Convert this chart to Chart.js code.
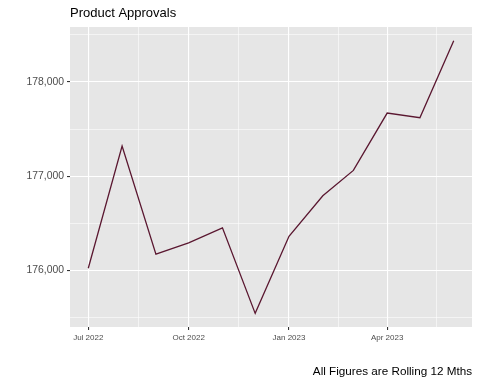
<!DOCTYPE html>
<html>
<head>
<meta charset="utf-8">
<script src="https://cdn.jsdelivr.net/npm/chart.js@4"></script>
<style>
  html, body { margin: 0; padding: 0; background: #fff; }
  #wrap { width: 480px; height: 384px; }
</style>
</head>
<body>
<div id="wrap"><canvas id="approvalsChart" width="480" height="384"></canvas></div>
<script>
// Monthly rolling 12-month approvals
const months = [
    [2022, 6], [2022, 7], [2022, 8], [2022, 9], [2022, 10], [2022, 11],
    [2023, 0], [2023, 1], [2023, 2], [2023, 3], [2023, 4], [2023, 5]
];
const approvals = [176020, 177320, 176170, 176290, 176450, 175540,
                   176360, 176790, 177060, 177670, 177620, 178440];

const xTickDates = [[2022, 6], [2022, 9], [2023, 0], [2023, 3]];
const xTickLabels = ['Jul 2022', 'Oct 2022', 'Jan 2023', 'Apr 2023'];
const yTicks = [176000, 177000, 178000];
const yMinorTicks = [175500, 176500, 177500, 178500];

const chartTitle = 'Product Approvals';
const chartCaption = 'All Figures are Rolling 12 Mths';

const toTime = d => Date.UTC(d[0], d[1], 1);
const xs = months.map(toTime);
const majorX = xTickDates.map(toTime);
// minor breaks sit halfway between the major ones
const minorX = [];
for (let i = 0; i < majorX.length; i++) {
    const next = i + 1 < majorX.length ? majorX[i + 1] : Date.UTC(2023, 6, 1);
    minorX.push((majorX[i] + next) / 2);
}

// ggplot style 5% expansion
const xSpan = Math.max(...xs) - Math.min(...xs);
const ySpan = Math.max(...approvals) - Math.min(...approvals);
const xMin = Math.min(...xs) - xSpan * 0.05, xMax = Math.max(...xs) + xSpan * 0.05;
const yMin = Math.min(...approvals) - ySpan * 0.05, yMax = Math.max(...approvals) + ySpan * 0.05;

const fontFamily = '"Liberation Sans", Arial, Helvetica, sans-serif';

const panelPlugin = {
    id: 'panel',
    beforeDraw(chart) {
        const { ctx, chartArea: a } = chart;
        ctx.save();
        ctx.fillStyle = '#E6E6E6';
        ctx.fillRect(a.left, a.top, a.right - a.left, a.bottom - a.top);
        ctx.restore();
    },
    afterDraw(chart) {
        const { ctx, chartArea: a } = chart;
        ctx.save();
        ctx.fillStyle = '#000';
        ctx.textBaseline = 'alphabetic';
        ctx.font = '13px ' + fontFamily;
        ctx.textAlign = 'left';
        ctx.fillText(chartTitle, a.left, 17);
        ctx.font = '11.7px ' + fontFamily;
        ctx.textAlign = 'right';
        ctx.fillText(chartCaption, a.right, 375);
        ctx.restore();
    }
};

const isMajorX = v => majorX.some(m => Math.abs(m - v) < 1000);
const isMajorY = v => yTicks.includes(v);

const ctx = document.getElementById('approvalsChart').getContext('2d');
const approvalsChart = new Chart(ctx, {
    type: 'line',
    data: {
        datasets: [{
            label: 'Approvals',
            data: xs.map((x, i) => ({ x: x, y: approvals[i] })),
            borderColor: '#5A1730',
            borderWidth: 1.3,
            pointRadius: 0,
            fill: false,
            tension: 0
        }]
    },
    options: {
        responsive: false,
        animation: false,
        layout: { padding: { top: 27, right: 8, left: 0, bottom: 0 } },
        plugins: {
            legend: { display: false },
            tooltip: { enabled: false }
        },
        scales: {
            x: {
                type: 'linear',
                min: xMin,
                max: xMax,
                afterBuildTicks: scale => {
                    scale.ticks = majorX.concat(minorX).sort((a, b) => a - b).map(v => ({ value: v }));
                },
                afterFit: scale => { scale.height = 57; },
                border: { display: false },
                grid: {
                    color: '#FFFFFF',
                    lineWidth: c => isMajorX(c.tick.value) ? 1.1 : 0.55,
                    drawTicks: true,
                    tickLength: 3,
                    tickColor: c => isMajorX(c.tick.value) ? '#333333' : 'rgba(0,0,0,0)',
                    tickWidth: 1.1
                },
                ticks: {
                    autoSkip: false,
                    maxRotation: 0,
                    padding: 3,
                    color: '#4D4D4D',
                    font: { family: fontFamily, size: 8 },
                    callback: v => {
                        const i = majorX.findIndex(m => Math.abs(m - v) < 1000);
                        return i >= 0 ? xTickLabels[i] : '';
                    }
                }
            },
            y: {
                min: yMin,
                max: yMax,
                afterBuildTicks: scale => {
                    scale.ticks = yTicks.concat(yMinorTicks).sort((a, b) => a - b).map(v => ({ value: v }));
                },
                afterFit: scale => { scale.width = 70; },
                border: { display: false },
                grid: {
                    color: '#FFFFFF',
                    lineWidth: c => isMajorY(c.tick.value) ? 1.1 : 0.55,
                    drawTicks: true,
                    tickLength: 3,
                    tickColor: c => isMajorY(c.tick.value) ? '#333333' : 'rgba(0,0,0,0)',
                    tickWidth: 1.1
                },
                ticks: {
                    autoSkip: false,
                    padding: 3,
                    color: '#4D4D4D',
                    font: { family: fontFamily, size: 10.4 },
                    callback: v => isMajorY(v) ? v.toLocaleString('en-US') : ''
                }
            }
        }
    },
    plugins: [panelPlugin]
});
</script>
</body>
</html>
